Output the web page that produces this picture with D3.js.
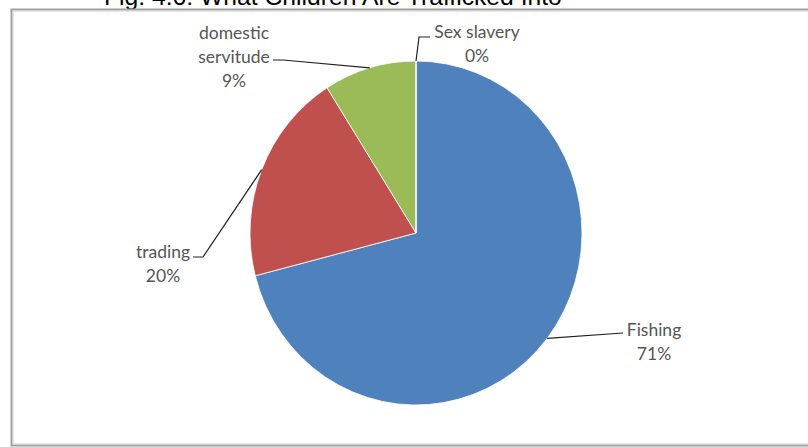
<!DOCTYPE html>
<html>
<head>
<meta charset="utf-8">
<script src="https://cdn.jsdelivr.net/npm/d3@7/dist/d3.min.js"></script>
<style>
  html, body { margin: 0; padding: 0; background: #fff; }
  svg { display: block; }
</style>
</head>
<body>
<svg id="chart" width="808" height="447"></svg>
<script>
// ---- data ----
const title = "Fig. 4.6: What Children Are Trafficked Into";
const categories = ["Fishing", "trading", "domestic servitude", "Sex slavery"];
const values = [71, 20, 9, 0];
const percentLabels = ["71%", "20%", "9%", "0%"];
const colors = ["#4F81BD", "#C0504D", "#9BBB59", "#8064A2"];

// ---- layout ----
const W = 808, H = 447;
const cx = 416, cy = 233, R = 172, xScale = 0.965;
const svg = d3.select("#chart");

// title (cut off at top, as in the source image)
svg.append("text")
  .attr("x", 104).attr("y", 5)
  .attr("font-family", "Liberation Sans, Arial, sans-serif")
  .attr("font-size", 24.7)
  .attr("fill", "#000")
  .text(title);

// frame
svg.append("rect")
  .attr("x", 11.5).attr("y", 9.5).attr("width", 820).attr("height", 436)
  .attr("fill", "#fff").attr("stroke", "#a0a0a0").attr("stroke-width", 2);
svg.append("rect")
  .attr("x", 13.5).attr("y", 11.5).attr("width", 820).attr("height", 432)
  .attr("fill", "none").attr("stroke", "#e8e8e8").attr("stroke-width", 1);

const pie = d3.pie().value(d => d).sort(null);
const arcs = pie(values);
const arc = d3.arc().innerRadius(0).outerRadius(R);

const g = svg.append("g").attr("transform", `translate(${cx},${cy}) scale(${xScale},1)`);
g.selectAll("path.slice")
  .data(arcs)
  .enter().append("path")
  .attr("class", "slice")
  .attr("d", arc)
  .attr("fill", (d, i) => colors[i])
  .attr("stroke", "#fff")
  .attr("stroke-width", 0.8);

// label placement (computed in code)
const labelLayout = [
  { x: 654, y: 330, lines: ["Fishing"], leader: [[623, 333]] },
  { x: 163, y: 252, lines: ["trading"], leader: [[193, 257], [203, 257]] },
  { x: 234, y: 33, lines: ["domestic", "servitude"], leader: [[273, 60], [283, 60]] },
  { x: 477, y: 32, lines: ["Sex slavery"], leader: [[430, 37], [419, 37]] }
];
const lineH = 24;
const fontFam = "Lato, Carlito, Calibri, sans-serif";
const fs = 17.5;

arcs.forEach((a, i) => {
  const L = labelLayout[i];
  const mid = (a.startAngle + a.endAngle) / 2;
  const px = cx + Math.sin(mid) * R * xScale;
  const py = cy - Math.cos(mid) * R;
  const pts = L.leader.concat([[px, py]]);
  svg.append("path")
    .attr("d", d3.line()(pts))
    .attr("fill", "none")
    .attr("stroke", "#222")
    .attr("stroke-width", 1.2);
  const t = svg.append("text")
    .attr("font-family", fontFam)
    .attr("font-size", fs)
    .attr("fill", "#555")
    .attr("text-anchor", "middle");
  const all = L.lines.concat([percentLabels[i]]);
  all.forEach((s, k) => {
    t.append("tspan")
      .attr("x", L.x)
      .attr("y", L.y + k * lineH)
      .attr("dy", "0.35em")
      .text(s);
  });
});
</script>
</body>
</html>
